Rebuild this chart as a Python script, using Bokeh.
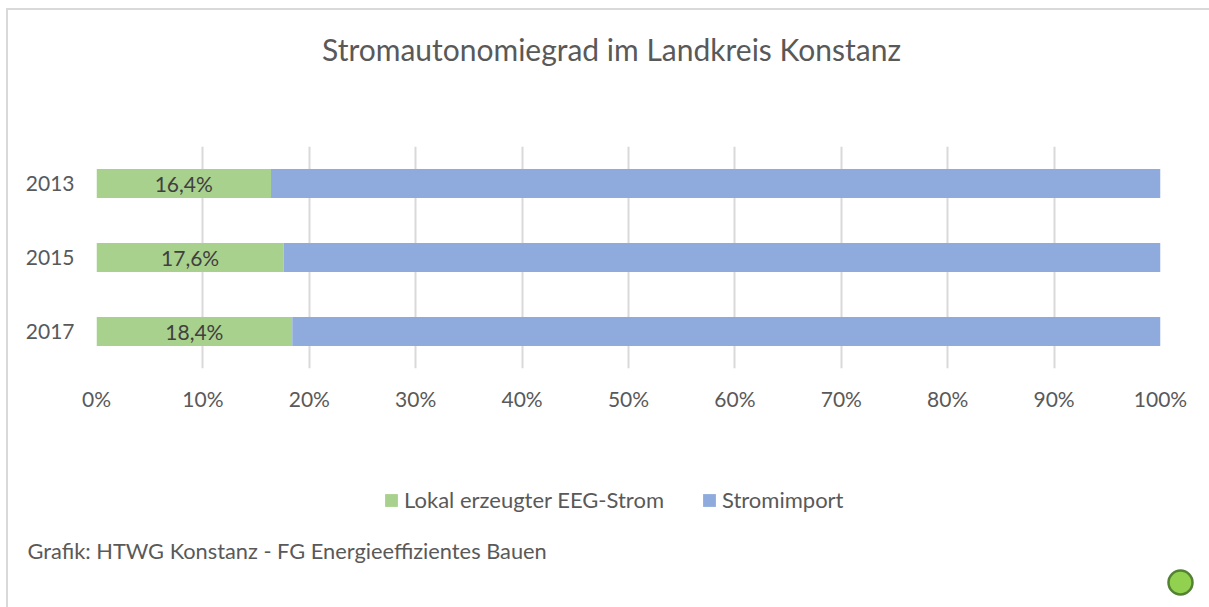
from bokeh.plotting import figure
from bokeh.layouts import column
from bokeh.models import (ColumnDataSource, FactorRange, Range1d, FixedTicker,
                          PrintfTickFormatter, Label, LabelSet, Legend, LegendItem)
from bokeh.core.properties import value
from bokeh.embed import file_html
from bokeh.resources import INLINE

years = ["2013", "2015", "2017"]
local_share = [16.4, 17.6, 18.4]
import_share = [83.6, 82.4, 81.6]
tick_values = [0, 10, 20, 30, 40, 50, 60, 70, 80, 90, 100]
series_names = ["Lokal erzeugter EEG-Strom", "Stromimport"]
colors = ["#A9D18E", "#8FAADC"]
title_text = "Stromautonomiegrad im Landkreis Konstanz"
footer_text = "Grafik: HTWG Konstanz - FG Energieeffizientes Bauen"

FONT = "Lato"
TXT = "#595959"
W = 1201


def blank(height):
    f = figure(width=W, height=height, output_backend="svg", toolbar_location=None,
               x_axis_type=None, y_axis_type=None,
               x_range=Range1d(0, W), y_range=Range1d(0, height),
               min_border=0)
    f.frame_align = False
    f.outline_line_color = None
    f.grid.grid_line_color = None
    f.background_fill_color = "white"
    f.border_fill_color = "white"
    return f


# ---- title strip
f0 = blank(100)
f0.add_layout(Label(x=603, y=62, x_units="screen", y_units="screen",
                    text=title_text, text_align="center", text_baseline="middle",
                    text_font=FONT, text_font_size="30px", text_color=TXT))

# ---- chart
source = ColumnDataSource(dict(
    year=years,
    local=local_share,
    imp=import_share,
    mid=[v / 2 for v in local_share],
    lbl=[f"{v:.1f}%".replace(".", ",") for v in local_share],
))

p = figure(width=W, height=320, output_backend="svg", toolbar_location=None,
           y_range=FactorRange(*years[::-1]), x_range=Range1d(0, 100),
           min_border_left=88, min_border_right=49, min_border_top=36,
           min_border_bottom=62)
p.frame_align = False
p.outline_line_color = None
p.background_fill_color = "white"
p.border_fill_color = "white"

r = p.hbar_stack(["local", "imp"], y="year", height=0.395, color=colors,
                 source=source, line_color=None)

p.xaxis.ticker = FixedTicker(ticks=tick_values)
p.xaxis.formatter = PrintfTickFormatter(format="%d%%")
for ax in (p.xaxis, p.yaxis):
    ax.axis_line_color = None
    ax.major_tick_line_color = None
    ax.minor_tick_line_color = None
    ax.major_tick_out = 0
    ax.major_tick_in = 0
    ax.minor_tick_out = 0
    ax.major_label_text_font = FONT
    ax.major_label_text_font_size = "21px"
    ax.major_label_text_color = TXT
p.xaxis.major_label_standoff = 17
p.yaxis.major_label_standoff = 22

p.xgrid.grid_line_color = "#D9D9D9"
p.xgrid.grid_line_width = 2
p.ygrid.grid_line_color = None

p.add_layout(LabelSet(x="mid", y="year", text="lbl", source=source,
                      text_align="center", text_baseline="middle",
                      text_font=value(FONT), text_font_size=value("21px"),
                      text_color="#404040"))

# ---- legend / footer strip (legend keys use zero-width proxies of the two series)
f2 = blank(177)
leg_src = ColumnDataSource(dict(y=[0], left=[0], right=[0]))
g0 = f2.hbar(y="y", left="left", right="right", height=1, source=leg_src,
             color=colors[0], line_color=None)
g1 = f2.hbar(y="y", left="left", right="right", height=1, source=leg_src,
             color=colors[1], line_color=None)
legend = Legend(items=[LegendItem(label=series_names[0], renderers=[g0]),
                       LegendItem(label=series_names[1], renderers=[g1])],
                orientation="horizontal", location=(375, 94),
                glyph_width=16, glyph_height=16, label_standoff=5, spacing=37,
                padding=0, margin=0, border_line_color=None,
                background_fill_alpha=0, label_text_font=FONT,
                label_text_font_size="22px", label_text_color=TXT,
                label_height=20)
f2.add_layout(legend, "center")
f2.add_layout(Label(x=19, y=57, x_units="screen", y_units="screen",
                    text=footer_text, text_align="left", text_baseline="middle",
                    text_font=FONT, text_font_size="21.8px", text_color=TXT))
f2.scatter(x=[1172], y=[25], size=24, marker="circle", fill_color="#92D050",
           line_color="#548235", line_width=2.5)

layout = column(f0, p, f2, spacing=0,
                styles={"margin-left": "6px", "margin-top": "8px",
                        "border-top": "2px solid #D9D9D9",
                        "border-left": "2px solid #D9D9D9"})

open("out.html", "w").write(file_html(layout, INLINE))
